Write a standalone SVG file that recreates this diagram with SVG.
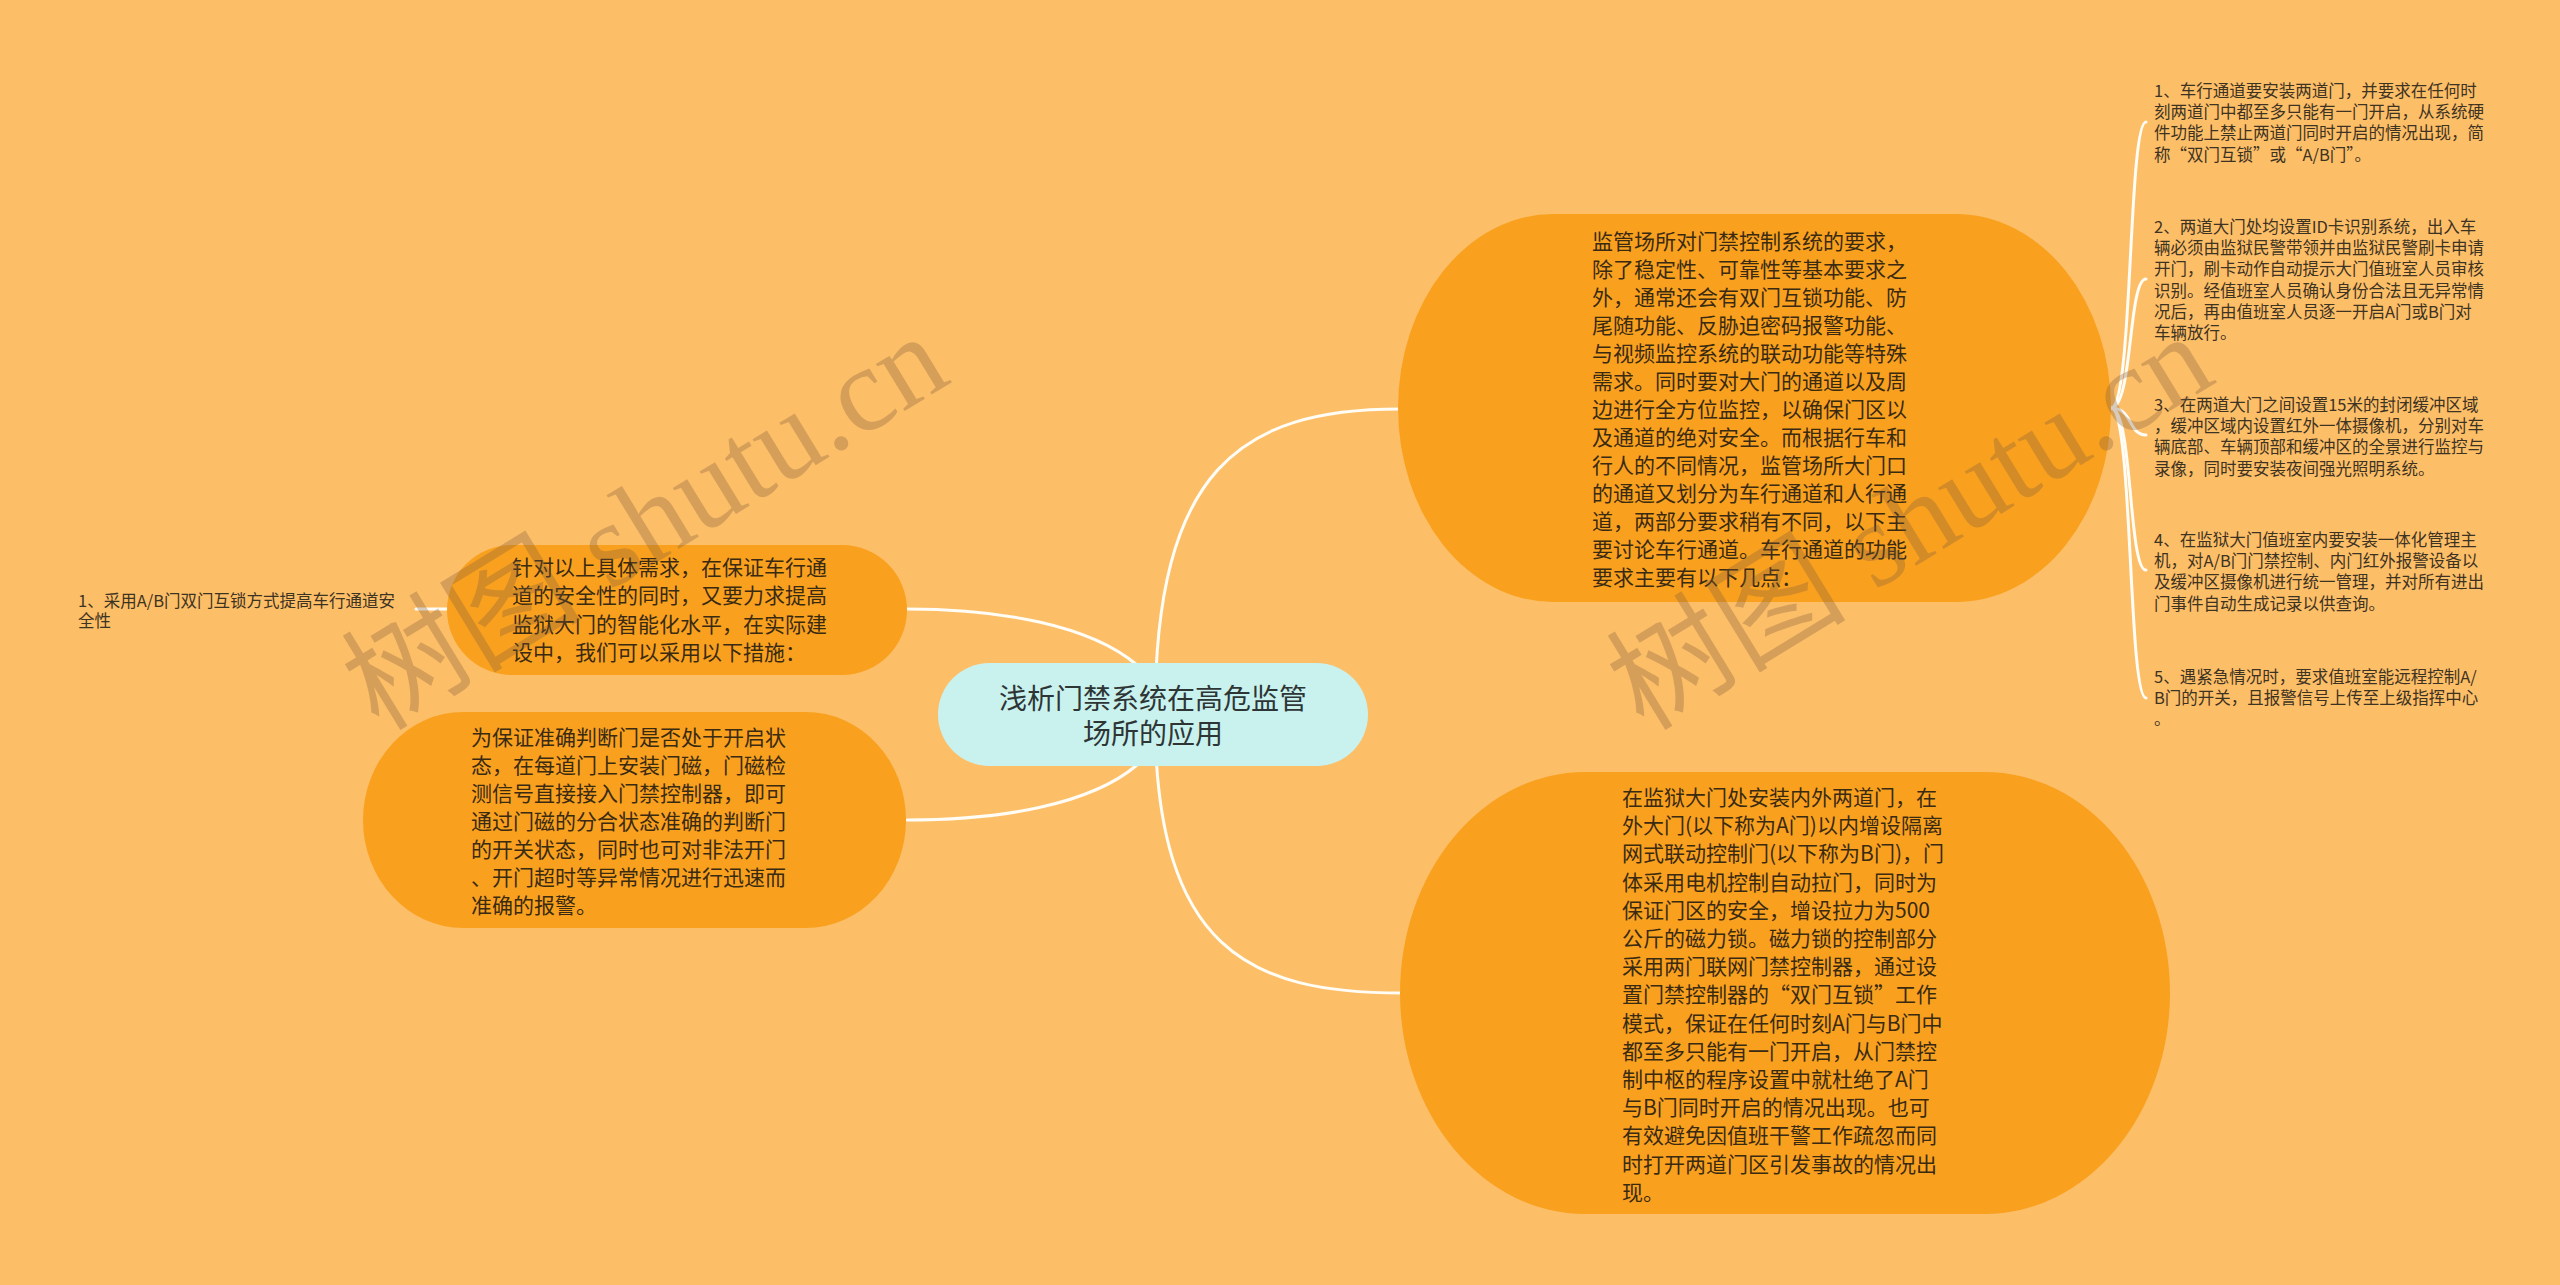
<svg xmlns="http://www.w3.org/2000/svg" width="2560" height="1285" viewBox="0 0 2560 1285">
<style>
.bg{fill:#FDBE68}
.main{fill:#F9A11F}
.center{fill:#C9F2EF}
.t{font-family:"Noto Sans CJK SC","Liberation Sans",sans-serif;font-size:21px;fill:#3a2a12}
.ct{font-family:"Noto Sans CJK SC","Liberation Sans",sans-serif;font-size:28px;fill:#2e3535;text-anchor:middle}
.lf{font-family:"Noto Sans CJK SC","Liberation Sans",sans-serif;font-size:16.5px;fill:#3d3322}
.conn path{fill:none;stroke:#FFFDF5;stroke-width:3;stroke-linecap:round}
.wm{font-family:"Liberation Serif","Noto Sans CJK SC",serif;font-size:120px;fill:#7a5a3c;opacity:0.3;text-anchor:middle;dominant-baseline:central}
</style>
<rect class="bg" x="0" y="0" width="2560" height="1285"/>
<g id="connectors" class="conn">
<path d="M1155 715 C1155 470 1240 409 1400 409"/>
<path d="M1155 715 C1155 950 1250 993 1402 993"/>
<path d="M907 609 C1000 609 1090 625 1137 665"/>
<path d="M907 820 C1000 820 1090 805 1137 765"/>
<path d="M416 609 L448 609"/>
<path d="M2111 408 C2133 408 2128 122 2146 122"/>
<path d="M2111 408 C2133 408 2128 279 2146 279"/>
<path d="M2111 408 C2133 408 2128 435 2146 435"/>
<path d="M2111 408 C2133 408 2128 570 2146 570"/>
<path d="M2111 408 C2133 408 2128 698 2146 698"/>
</g>
<g id="node-center">
<rect class="center" x="938" y="663" width="430" height="103" rx="51.5" ry="51.5"/>
<text class="ct" x="1153" y="709">浅析门禁系统在高危监管</text>
<text class="ct" x="1153" y="744">场所的应用</text>
</g>
<g id="node-requirements">
<rect class="main" x="1398" y="214" width="713" height="388" rx="155" ry="194"/>
<text class="t" x="1592" y="249">监管场所对门禁控制系统的要求，</text>
<text class="t" x="1592" y="277">除了稳定性、可靠性等基本要求之</text>
<text class="t" x="1592" y="305">外，通常还会有双门互锁功能、防</text>
<text class="t" x="1592" y="333">尾随功能、反胁迫密码报警功能、</text>
<text class="t" x="1592" y="361">与视频监控系统的联动功能等特殊</text>
<text class="t" x="1592" y="389">需求。同时要对大门的通道以及周</text>
<text class="t" x="1592" y="417">边进行全方位监控，以确保门区以</text>
<text class="t" x="1592" y="445">及通道的绝对安全。而根据行车和</text>
<text class="t" x="1592" y="473">行人的不同情况，监管场所大门口</text>
<text class="t" x="1592" y="501">的通道又划分为车行通道和人行通</text>
<text class="t" x="1592" y="529">道，两部分要求稍有不同，以下主</text>
<text class="t" x="1592" y="557">要讨论车行通道。车行通道的功能</text>
<text class="t" x="1592" y="585">要求主要有以下几点：</text>
</g>
<g id="node-doors">
<rect class="main" x="1400" y="772" width="770" height="442" rx="185" ry="221"/>
<text class="t" x="1622" y="805">在监狱大门处安装内外两道门，在</text>
<text class="t" x="1622" y="833.2">外大门(以下称为A门)以内增设隔离</text>
<text class="t" x="1622" y="861.4">网式联动控制门(以下称为B门)，门</text>
<text class="t" x="1622" y="889.6">体采用电机控制自动拉门，同时为</text>
<text class="t" x="1622" y="917.8">保证门区的安全，增设拉力为500</text>
<text class="t" x="1622" y="946">公斤的磁力锁。磁力锁的控制部分</text>
<text class="t" x="1622" y="974.2">采用两门联网门禁控制器，通过设</text>
<text class="t" x="1622" y="1002.4">置门禁控制器的“双门互锁”工作</text>
<text class="t" x="1622" y="1030.6">模式，保证在任何时刻A门与B门中</text>
<text class="t" x="1622" y="1058.8">都至多只能有一门开启，从门禁控</text>
<text class="t" x="1622" y="1087">制中枢的程序设置中就杜绝了A门</text>
<text class="t" x="1622" y="1115.2">与B门同时开启的情况出现。也可</text>
<text class="t" x="1622" y="1143.4">有效避免因值班干警工作疏忽而同</text>
<text class="t" x="1622" y="1171.6">时打开两道门区引发事故的情况出</text>
<text class="t" x="1622" y="1199.8">现。</text>
</g>
<g id="node-measures">
<rect class="main" x="447" y="545" width="460" height="130" rx="65" ry="65"/>
<text class="t" x="512" y="575">针对以上具体需求，在保证车行通</text>
<text class="t" x="512" y="603.3">道的安全性的同时，又要力求提高</text>
<text class="t" x="512" y="631.6">监狱大门的智能化水平，在实际建</text>
<text class="t" x="512" y="659.9">设中，我们可以采用以下措施：</text>
</g>
<g id="node-magnet">
<rect class="main" x="363" y="712" width="543" height="216" rx="100" ry="108"/>
<text class="t" x="471" y="745">为保证准确判断门是否处于开启状</text>
<text class="t" x="471" y="773">态，在每道门上安装门磁，门磁检</text>
<text class="t" x="471" y="801">测信号直接接入门禁控制器，即可</text>
<text class="t" x="471" y="829">通过门磁的分合状态准确的判断门</text>
<text class="t" x="471" y="857">的开关状态，同时也可对非法开门</text>
<text class="t" x="471" y="885">、开门超时等异常情况进行迅速而</text>
<text class="t" x="471" y="913">准确的报警。</text>
</g>
<g id="leaf-left-1">
<text class="lf" x="78" y="607">1、采用A/B门双门互锁方式提高车行通道安</text>
<text class="lf" x="78" y="627">全性</text>
</g>
<g id="leaf-right-1">
<text class="lf" x="2154" y="97">1、车行通道要安装两道门，并要求在任何时</text>
<text class="lf" x="2154" y="118.2">刻两道门中都至多只能有一门开启，从系统硬</text>
<text class="lf" x="2154" y="139.4">件功能上禁止两道门同时开启的情况出现，简</text>
<text class="lf" x="2154" y="160.6">称“双门互锁”或“A/B门”。</text>
</g>
<g id="leaf-right-2">
<text class="lf" x="2154" y="233">2、两道大门处均设置ID卡识别系统，出入车</text>
<text class="lf" x="2154" y="254.2">辆必须由监狱民警带领并由监狱民警刷卡申请</text>
<text class="lf" x="2154" y="275.4">开门，刷卡动作自动提示大门值班室人员审核</text>
<text class="lf" x="2154" y="296.6">识别。经值班室人员确认身份合法且无异常情</text>
<text class="lf" x="2154" y="317.8">况后，再由值班室人员逐一开启A门或B门对</text>
<text class="lf" x="2154" y="339">车辆放行。</text>
</g>
<g id="leaf-right-3">
<text class="lf" x="2154" y="411">3、在两道大门之间设置15米的封闭缓冲区域</text>
<text class="lf" x="2154" y="432.2">，缓冲区域内设置红外一体摄像机，分别对车</text>
<text class="lf" x="2154" y="453.4">辆底部、车辆顶部和缓冲区的全景进行监控与</text>
<text class="lf" x="2154" y="474.6">录像，同时要安装夜间强光照明系统。</text>
</g>
<g id="leaf-right-4">
<text class="lf" x="2154" y="546">4、在监狱大门值班室内要安装一体化管理主</text>
<text class="lf" x="2154" y="567.2">机，对A/B门门禁控制、内门红外报警设备以</text>
<text class="lf" x="2154" y="588.4">及缓冲区摄像机进行统一管理，并对所有进出</text>
<text class="lf" x="2154" y="609.6">门事件自动生成记录以供查询。</text>
</g>
<g id="leaf-right-5">
<text class="lf" x="2154" y="683">5、遇紧急情况时，要求值班室能远程控制A/</text>
<text class="lf" x="2154" y="704.2">B门的开关，且报警信号上传至上级指挥中心</text>
<text class="lf" x="2154" y="725.4">。</text>
</g>
<g id="watermark">
<text class="wm" transform="translate(645 522) rotate(-31.4)">树图 shutu.cn</text>
<text class="wm" transform="translate(1910 522) rotate(-31.4)">树图 shutu.cn</text>
</g>
</svg>
